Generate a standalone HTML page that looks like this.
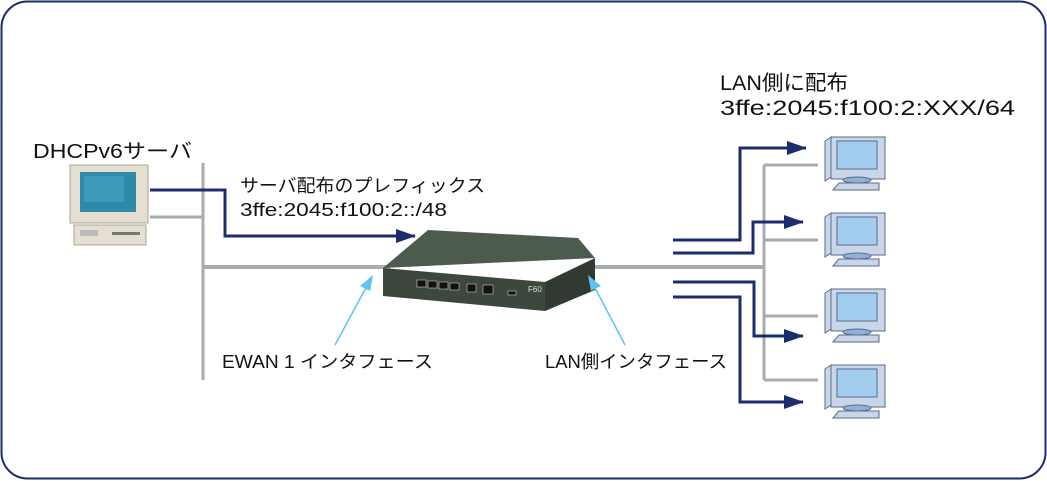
<!DOCTYPE html>
<html><head><meta charset="utf-8"><style>
body{margin:0;background:#fff}
svg{display:block}
text{font-family:"Liberation Sans","Noto Sans CJK JP",sans-serif;fill:#111}
</style></head><body>
<svg width="1047" height="481" viewBox="0 0 1047 481" xmlns="http://www.w3.org/2000/svg">
<defs>
<marker id="ah" markerWidth="20" markerHeight="14" refX="19" refY="7" orient="auto" markerUnits="userSpaceOnUse" viewBox="0 0 20 14"><path d="M0,0 L20,7 L0,14 Z" fill="#1c2d6e"/></marker>
<g id="pc">
<path d="M0,4 L6,0 L6,40 L0,44 Z" fill="#c9d6ea" stroke="#5a6a88" stroke-width="1"/>
<rect x="6" y="0" width="54" height="42" fill="#c9d6ea" stroke="#5a6a88" stroke-width="1"/>
<rect x="12" y="4" width="40" height="28" fill="#a3cdef" stroke="#5a6a88" stroke-width="1"/>
<ellipse cx="32" cy="43" rx="14" ry="3" fill="#8fb0d8" stroke="#5a6a88" stroke-width="1"/>
<path d="M8,53 L14,46 L54,46 L54,53 Z" fill="#c9d6ea" stroke="#5a6a88" stroke-width="1"/>
</g>
</defs>
<rect x="1.5" y="1.5" width="1044" height="477" rx="26" fill="#fff" stroke="#1c2d6e" stroke-width="2"/>

<g stroke="#a9acae" stroke-width="3" fill="none">
<line x1="203" y1="163" x2="203" y2="380"/>
<line x1="150" y1="217" x2="203" y2="217"/>
<line x1="764" y1="165" x2="764" y2="380"/>
<line x1="764" y1="165" x2="818" y2="165"/>
<line x1="764" y1="240" x2="818" y2="240"/>
<line x1="764" y1="316" x2="818" y2="316"/>
<line x1="764" y1="380" x2="818" y2="380"/>
</g>
<g stroke="#a9acae" stroke-width="4" fill="none">
<line x1="203" y1="267" x2="390" y2="267"/>
<line x1="590" y1="267" x2="764" y2="267"/>
</g>

<g stroke="#1c2d6e" stroke-width="3" fill="none">
<polyline points="150,190 225,190 225,236 415,236" marker-end="url(#ah)"/>
<polyline points="673,240 740,240 740,148 806,148" marker-end="url(#ah)"/>
<polyline points="673,253 753,253 753,222 803,222" marker-end="url(#ah)"/>
<polyline points="673,282 754,282 754,336 803,336" marker-end="url(#ah)"/>
<polyline points="673,297 740,297 740,402 803,402" marker-end="url(#ah)"/>
</g>

<g>
<rect x="70" y="165" width="78" height="58" fill="#e4dfd0" stroke="#a9a493"/>
<rect x="80" y="172" width="56" height="40" fill="#2f8aa8"/>
<rect x="84" y="176" width="40" height="26" fill="#4aa7c4" opacity="0.6"/>
<rect x="74" y="225" width="72" height="20" fill="#e4dfd0" stroke="#a9a493"/>
<rect x="112" y="232" width="28" height="3" fill="#777"/>
<rect x="80" y="230" width="18" height="6" fill="#bbb"/>
</g>

<g>
<polygon points="428,230 578,238 595,258 383,268" fill="#4d5a4e"/>
<polygon points="383,268 545,282 545,311 383,296" fill="#3c483d"/>
<polygon points="545,282 595,258 595,290 545,311" fill="#313a32"/>
<g fill="#111" stroke="#ccc" stroke-width="0.6">
<rect x="417" y="280" width="9" height="7"/><rect x="428" y="281" width="9" height="7"/>
<rect x="439" y="282" width="9" height="7"/><rect x="450" y="283" width="9" height="7"/>
<rect x="467" y="284" width="9" height="8"/><rect x="483" y="285" width="10" height="9"/>
<rect x="508" y="291" width="8" height="4"/>
</g>
<text x="528" y="292" font-size="8" style="fill:#ddd">F60</text>
</g>

<g stroke="#5ec3ee" stroke-width="1.5">
<line x1="335" y1="345" x2="368" y2="284"/>
<polygon points="373,275 360,286 370,291" fill="#5ec3ee" stroke="none"/>
<line x1="625" y1="345" x2="593" y2="284"/>
<polygon points="588,275 591,291 601,286" fill="#5ec3ee" stroke="none"/>
</g>

<use href="#pc" x="825" y="137"/>
<use href="#pc" x="825" y="213"/>
<use href="#pc" x="825" y="289"/>
<use href="#pc" x="825" y="365"/>

<text x="33" y="158" font-size="20" textLength="159" lengthAdjust="spacingAndGlyphs">DHCPv6サーバ</text>
<text x="240" y="192" font-size="18" textLength="245" lengthAdjust="spacingAndGlyphs">サーバ配布のプレフィックス</text>
<text x="240" y="216" font-size="18" textLength="207" lengthAdjust="spacingAndGlyphs">3ffe:2045:f100:2::/48</text>
<text x="720" y="90" font-size="21" textLength="128" lengthAdjust="spacingAndGlyphs">LAN側に配布</text>
<text x="720" y="115" font-size="21" textLength="295" lengthAdjust="spacingAndGlyphs">3ffe:2045:f100:2:XXX/64</text>
<text x="222" y="368" font-size="18" textLength="211" lengthAdjust="spacingAndGlyphs">EWAN 1 インタフェース</text>
<text x="545" y="368" font-size="18" textLength="182" lengthAdjust="spacingAndGlyphs">LAN側インタフェース</text>
</svg>
</body></html>
